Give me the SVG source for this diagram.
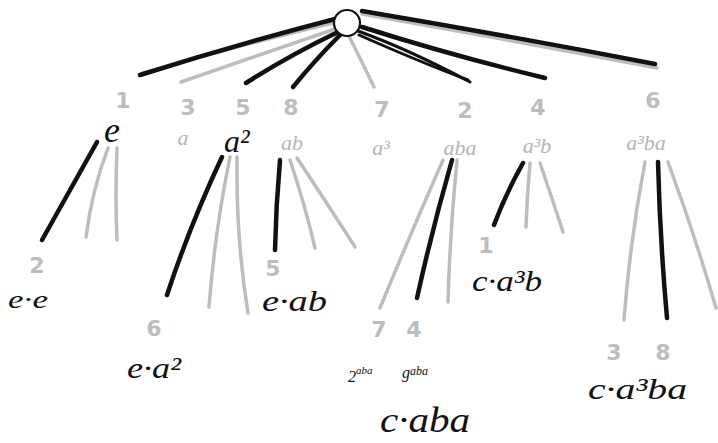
<svg xmlns="http://www.w3.org/2000/svg" width="718" height="443" viewBox="0 0 718 443">
<style>
.bk{stroke:#111;stroke-width:4.5;fill:none;stroke-linecap:round}
.bk2{stroke:#111;stroke-width:3;fill:none;stroke-linecap:round}
.gr{stroke:#bdbdbd;stroke-width:3.5;fill:none;stroke-linecap:round}
.num{font-family:"DejaVu Sans",sans-serif;font-size:22px;font-weight:bold;fill:#bdbdbd;text-anchor:middle}
.gname{font-family:"Liberation Serif",serif;font-style:italic;font-size:22px;fill:#b5b5b5;text-anchor:middle}
.bname{font-family:"Liberation Serif",serif;font-style:italic;fill:#111;text-anchor:start}
</style>
<rect width="718" height="443" fill="#fff"/>
<g id="connectors">
  <path class="gr" d="M333 23 Q240 45 143 73"/>
  <path class="bk" d="M335 19 Q235 45 140 75"/>
  <path class="gr" d="M338 28 Q260 55 181 82"/>
  <path class="bk" d="M338 32 Q290 55 246 83"/>
  <path class="bk" d="M341 34 Q315 60 293 87"/>
  <path class="gr" d="M349 36 Q362 62 374 87"/>
  <path class="bk2" d="M358 31 Q410 50 470 82"/>
  <path class="bk2" d="M359 35 Q420 62 468 80"/>
  <path class="bk" d="M362 27 Q450 55 545 78"/>
  <path class="gr" d="M362 14 Q510 40 657 68"/>
  <path class="bk" d="M362 11 Q510 36 655 64"/>
  <path class="bk" d="M97 142 Q70 190 42 240"/>
  <path class="gr" d="M108 148 Q92 190 86 237"/>
  <path class="gr" d="M117 148 Q115 195 117 240"/>
  <path class="bk" d="M222 157 Q190 225 167 295"/>
  <path class="gr" d="M230 157 Q215 230 209 307"/>
  <path class="gr" d="M237 157 Q236 240 248 313"/>
  <path class="bk" d="M280 160 Q276 205 275 250"/>
  <path class="gr" d="M290 160 Q305 205 315 248"/>
  <path class="gr" d="M297 158 Q325 200 355 247"/>
  <path class="gr" d="M443 160 Q410 235 380 308"/>
  <path class="bk" d="M452 160 Q432 230 417 298"/>
  <path class="gr" d="M457 160 Q450 230 448 302"/>
  <path class="bk" d="M523 163 Q505 195 494 225"/>
  <path class="gr" d="M530 163 Q527 195 526 227"/>
  <path class="gr" d="M540 163 Q552 198 563 232"/>
  <path class="gr" d="M645 162 Q630 240 624 320"/>
  <path class="bk" d="M658 162 Q660 240 667 318"/>
  <path class="gr" d="M668 162 Q695 235 716 308"/>
</g>
<g id="root">
  <circle cx="347" cy="23" r="13" fill="#fff" stroke="#111" stroke-width="2.2"/>
</g>
<g id="n-e"><text class="num" x="123" y="108">1</text><text class="bname" x="104" y="142" font-size="36">e</text></g>
<g id="n-a"><text class="num" x="188" y="115">3</text><text class="gname" x="183" y="145">a</text></g>
<g id="n-a2"><text class="num" x="243" y="115">5</text><text class="bname" x="224" y="152" font-size="32">a²</text></g>
<g id="n-ab"><text class="num" x="291" y="115">8</text><text class="gname" x="292" y="150">ab</text></g>
<g id="n-a3"><text class="num" x="382" y="117">7</text><text class="gname" x="381" y="155">a³</text></g>
<g id="n-aba"><text class="num" x="465" y="118">2</text><text class="gname" x="460" y="155">aba</text></g>
<g id="n-a3b"><text class="num" x="538" y="115">4</text><text class="gname" x="537" y="153">a³b</text></g>
<g id="n-a3ba"><text class="num" x="653" y="108">6</text><text class="gname" x="646" y="150" font-size="24">a³ba</text></g>
<g id="n-ee"><text class="num" x="37" y="273">2</text><text class="bname" x="8" y="308" font-size="26" textLength="40" lengthAdjust="spacingAndGlyphs">e·e</text></g>
<g id="n-ea2"><text class="num" x="154" y="336">6</text><text class="bname" x="127" y="378" font-size="30" textLength="54" lengthAdjust="spacingAndGlyphs">e·a²</text></g>
<g id="n-eab"><text class="num" x="273" y="276">5</text><text class="bname" x="262" y="311" font-size="30" textLength="65" lengthAdjust="spacingAndGlyphs">e·ab</text></g>
<g id="n-caba">
  <text class="num" x="379" y="337">7</text><text class="num" x="414" y="337">4</text>
  <text class="bname" x="348" y="382" font-size="16">2<tspan font-size="11" dy="-8">aba</tspan></text>
  <text class="bname" x="402" y="378" font-size="16">g<tspan font-size="12" dy="-3">aba</tspan></text>
  <text class="bname" x="380" y="432" font-size="36" textLength="90" lengthAdjust="spacingAndGlyphs">c·aba</text>
</g>
<g id="n-ca3b"><text class="num" x="486" y="253">1</text><text class="bname" x="472" y="291" font-size="30" textLength="70" lengthAdjust="spacingAndGlyphs">c·a³b</text></g>
<g id="n-ca3ba"><text class="num" x="614" y="360">3</text><text class="num" x="663" y="360">8</text><text class="bname" x="588" y="399" font-size="30" textLength="99" lengthAdjust="spacingAndGlyphs">c·a³ba</text></g>
</svg>
